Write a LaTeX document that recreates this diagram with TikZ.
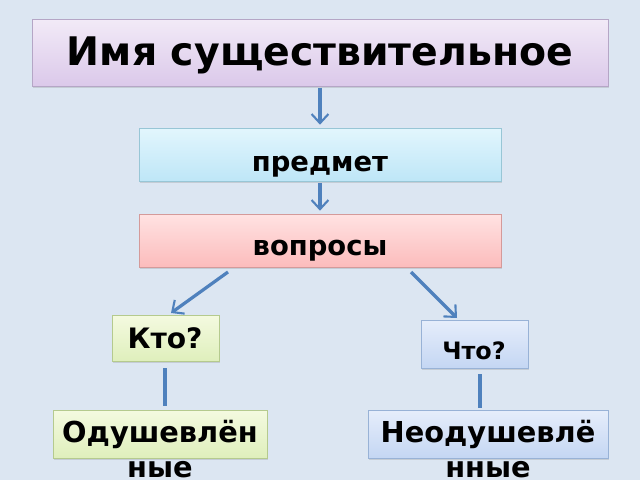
\documentclass[tikz,border=0pt]{standalone}
\usepackage{fontspec}
\setmainfont{DejaVu Sans}
\usetikzlibrary{arrows.meta,shadows}
\definecolor{bg}{HTML}{DCE6F2}
\definecolor{ln}{HTML}{4F81BD}
\definecolor{puT}{HTML}{F2EAF7}\definecolor{puB}{HTML}{DBC9EA}\definecolor{puD}{HTML}{B5A6C6}
\definecolor{cyT}{HTML}{E2F6FD}\definecolor{cyB}{HTML}{BEE6F7}\definecolor{cyD}{HTML}{98C6D6}
\definecolor{reT}{HTML}{FFE2E2}\definecolor{reB}{HTML}{FCBCBC}\definecolor{reD}{HTML}{D49A9A}
\definecolor{grT}{HTML}{F4FAE0}\definecolor{grB}{HTML}{DFEFBC}\definecolor{grD}{HTML}{B5CA8E}
\definecolor{blT}{HTML}{E6EEFB}\definecolor{blB}{HTML}{C4D6F3}\definecolor{blD}{HTML}{98B2D6}
\tikzset{
  px/.style={x=0.025cm,y=-0.025cm},
  box/.style={rectangle,inner sep=0pt,line width=0.7pt,
     drop shadow={shadow xshift=0.4pt,shadow yshift=-1.2pt,opacity=0.25}},
  purplebox/.style={box,draw=puD,top color=puT,bottom color=puB},
  cyanbox/.style={box,draw=cyD,top color=cyT,bottom color=cyB},
  redbox/.style={box,draw=reD,top color=reT,bottom color=reB},
  greenbox/.style={box,draw=grD,top color=grT,bottom color=grB},
  bluebox/.style={box,draw=blD,top color=blT,bottom color=blB},
  lbl/.style={text=black,inner sep=0pt},
  arr/.style={draw=ln,line width=2.3pt,-{Straight Barb[length=6.5pt,width=12pt,line width=1.5pt]}},
  lnk/.style={draw=ln,line width=2.3pt}
}
\begin{document}
\begin{tikzpicture}[px]
\fill[bg] (0,0) rectangle (640,480);
\useasboundingbox (0,0) rectangle (640,480);
\clip (0,0) rectangle (640,480);
% boxes
\node[purplebox,minimum width=576*0.025cm,minimum height=67*0.025cm] (top) at (320,52.5) {};
\node[cyanbox,minimum width=362*0.025cm,minimum height=53*0.025cm] (pred) at (320,154.5) {};
\node[redbox,minimum width=362*0.025cm,minimum height=53*0.025cm] (vopr) at (320,240.5) {};
\node[greenbox,minimum width=107*0.025cm,minimum height=46*0.025cm] (kto) at (165.5,338) {};
\node[bluebox,minimum width=107*0.025cm,minimum height=48*0.025cm] (chto) at (474.5,344) {};
\node[greenbox,minimum width=214*0.025cm,minimum height=48*0.025cm] (odush) at (160,434) {};
\node[bluebox,minimum width=240*0.025cm,minimum height=48*0.025cm] (neod) at (488,434) {};
% labels
\node[lbl,font=\bfseries\fontsize{28}{33}\selectfont] (tTop) at (320,55) {Имя существительное};
\node[lbl,font=\bfseries\fontsize{19.5}{23}\selectfont] (tPred) at (320,167) {предмет};
\node[lbl,font=\bfseries\fontsize{19.5}{23}\selectfont] (tVopr) at (320,251) {вопросы};
\node[lbl,font=\bfseries\fontsize{20}{24}\selectfont] (tKto) at (165,338) {Кто?};
\node[lbl,font=\bfseries\fontsize{17}{20}\selectfont] (tChto) at (474,351) {Что?};
\node[lbl,font=\bfseries\fontsize{20.5}{25}\selectfont,align=center] (tOdush) at (160,449) {Одушевлён\\ные};
\node[lbl,font=\bfseries\fontsize{20.5}{25}\selectfont,align=center] (tNeod) at (488,449) {Неодушевлё\\нные};
% connector ends
\coordinate (vL) at (228,272);
\coordinate (kT) at (171,313);
\coordinate (vR) at (411,272);
\coordinate (cT) at (457,318);
\coordinate (cB) at (480,374);
\coordinate (nT) at (480,408);
\coordinate (kB) at (165,368);
\coordinate (oT) at (165,406);
% connectors
\draw[arr,shorten <=1pt,shorten >=2pt] (top.south) -- (pred.north);
\draw[arr,shorten <=1pt,shorten >=2pt] (pred.south) -- (vopr.north);
\draw[arr] (vL) -- (kT);
\draw[arr] (vR) -- (cT);
\draw[lnk] (kB) -- (oT);
\draw[lnk] (cB) -- (nT);
\end{tikzpicture}
\end{document}
